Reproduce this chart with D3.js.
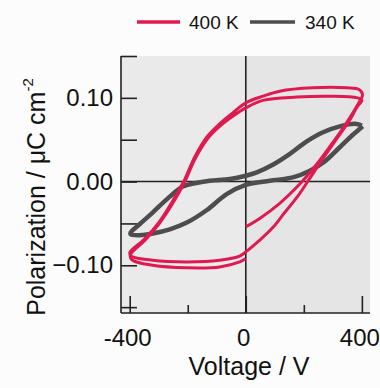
<!DOCTYPE html>
<html>
<head>
<meta charset="utf-8">
<script src="https://cdn.jsdelivr.net/npm/d3@7"></script>
<style>
  body { margin: 0; background: #fcfcfc; }
  text { font-family: "Liberation Sans", Arial, sans-serif; fill: #111; }
</style>
</head>
<body>
<div id="chart"></div>
<script>
// 400 K loop, two cycles, voltage in V and polarization in uC/cm2
var volt400 = [0, 48, 117, 186, 238, 290, 341, 386, 402,
    390, 348, 230, 117, 59, 0,
    -45, -90, -130, -175, -210, -250, -300, -350, -400,
    -395, -321, -203, -90, -21, 0,
    48, 93, 134, 176, 217, 255, 307, 359, 383, 400,
    385, 290, 176, 59, 0,
    -45, -90, -130, -175, -210, -250, -300, -350, -398,
    -390, -321, -203, -90, -21, 0];
var pol400 = [-0.054, -0.044, -0.026, -0.003, 0.018, 0.042, 0.067, 0.092, 0.104,
    0.110, 0.112, 0.112, 0.108, 0.102, 0.094,
    0.082, 0.069, 0.055, 0.030, 0.003, -0.022, -0.049, -0.069, -0.085,
    -0.089, -0.094, -0.096, -0.094, -0.089, -0.084,
    -0.070, -0.055, -0.037, -0.019, 0.002, 0.022, 0.048, 0.074, 0.089, 0.097,
    0.100, 0.102, 0.101, 0.097, 0.088,
    0.078, 0.066, 0.052, 0.027, 0.000, -0.025, -0.051, -0.071, -0.088,
    -0.094, -0.100, -0.103, -0.102, -0.096, -0.092];

// 340 K loop
var volt340 = [400, 376, 324, 266, 210, 152, 93, 38, 0, -55, -124, -176, -217, -262, -321, -366, -397,
    -397, -366, -321, -262, -203, -134, -66, 0, 83, 162, 221, 272, 324, 366, 393, 403];
var pol340 = [0.067, 0.069, 0.066, 0.059, 0.048, 0.033, 0.020, 0.011, 0.007, 0.003, 0.001, -0.002, -0.006, -0.018, -0.037, -0.051, -0.061,
    -0.063, -0.064, -0.062, -0.057, -0.049, -0.034, -0.015, -0.004, 0.001, 0.005, 0.013, 0.024, 0.041, 0.055, 0.063, 0.066];

var xTicksMajor = [-400, 0, 400];
var xTicksMinor = [-200, 200];
var yTicks = [-0.15, -0.10, -0.05, 0, 0.05, 0.10, 0.15];
var yTickLabels = [-0.10, 0, 0.10];
var seriesNames = ["400 K", "340 K"];
var seriesColors = ["#df1a50", "#4d4d4d"];

var width = 380, height = 388;
var plotLeft = 121, plotRight = 370, plotTop = 56, plotBottom = 313;

var svg = d3.select("#chart").append("svg")
    .attr("width", width)
    .attr("height", height);

var x = d3.scaleLinear().domain([-430, 428]).range([plotLeft, plotRight]);
var y = d3.scaleLinear().domain([-0.157, 0.15]).range([plotBottom, plotTop]);

// plot background
svg.append("rect")
    .attr("x", plotLeft).attr("y", plotTop)
    .attr("width", x(0) - plotLeft).attr("height", plotBottom - plotTop)
    .attr("fill", "#eaeaea");
svg.append("rect")
    .attr("x", x(0)).attr("y", plotTop)
    .attr("width", plotRight - x(0)).attr("height", plotBottom - plotTop)
    .attr("fill", "#e5e5e5");

// zero lines
svg.append("line")
    .attr("x1", x(0)).attr("x2", x(0))
    .attr("y1", plotTop).attr("y2", plotBottom)
    .attr("stroke", "#222").attr("stroke-width", 1.6);
svg.append("line")
    .attr("x1", plotLeft).attr("x2", plotRight)
    .attr("y1", y(0)).attr("y2", y(0))
    .attr("stroke", "#222").attr("stroke-width", 1.6);

// axes with inward ticks
var yAxis = d3.axisRight(y).tickValues(yTicks).tickSize(16).tickFormat("");
var gy = svg.append("g").attr("transform", `translate(${plotLeft},0)`).call(yAxis);
gy.select(".domain").attr("d", `M0,${plotTop}V${plotBottom}`);

var xAxisMajor = d3.axisTop(x).tickValues(xTicksMajor).tickSize(17).tickFormat("");
var xAxisMinor = d3.axisTop(x).tickValues(xTicksMinor).tickSize(8).tickFormat("");
var gx = svg.append("g").attr("transform", `translate(0,${plotBottom})`).call(xAxisMajor);
gx.select(".domain").attr("d", `M${plotLeft},0H${plotRight}`);
svg.append("g").attr("transform", `translate(0,${plotBottom})`).call(xAxisMinor)
    .select(".domain").remove();

svg.selectAll(".domain, .tick line")
    .attr("stroke", "#222")
    .attr("stroke-width", 1.6);

// tick labels
svg.selectAll(".ylab")
    .data(yTickLabels)
    .enter().append("text")
    .attr("class", "ylab")
    .attr("x", plotLeft - 8)
    .attr("y", d => y(d) + 8)
    .attr("text-anchor", "end")
    .attr("font-size", 24)
    .text(d => d3.format(".2f")(d));

svg.selectAll(".xlab")
    .data(xTicksMajor)
    .enter().append("text")
    .attr("class", "xlab")
    .attr("x", d => x(d) - 2)
    .attr("y", 346)
    .attr("text-anchor", "middle")
    .attr("font-size", 24)
    .text(d => d);

// axis titles
svg.append("text")
    .attr("x", 249).attr("y", 375)
    .attr("text-anchor", "middle")
    .attr("font-size", 25)
    .text("Voltage / V");

var yt = svg.append("text")
    .attr("transform", "translate(45,197) rotate(-90)")
    .attr("text-anchor", "middle")
    .attr("font-size", 25);
yt.append("tspan").text("Polarization / μC cm");
yt.append("tspan").attr("dy", -12).attr("font-size", 15).text("-2");

// loops
var line = d3.line()
    .x(d => x(d[0]))
    .y(d => y(d[1]))
    .curve(d3.curveCatmullRom.alpha(0.5));

svg.append("path")
    .datum(volt340.map((v, i) => [v, pol340[i]]))
    .attr("d", line)
    .attr("fill", "none")
    .attr("stroke", seriesColors[1])
    .attr("stroke-width", 4.5)
    .attr("stroke-linejoin", "round");

svg.append("path")
    .datum(volt400.map((v, i) => [v, pol400[i]]))
    .attr("d", line)
    .attr("fill", "none")
    .attr("stroke", seriesColors[0])
    .attr("stroke-width", 3)
    .attr("stroke-linejoin", "round");

// legend
var legendX = [137, 250];
var legend = svg.selectAll(".leg")
    .data(seriesNames)
    .enter().append("g")
    .attr("class", "leg")
    .attr("transform", (d, i) => `translate(${legendX[i]},22)`);
legend.append("line")
    .attr("x1", 0).attr("x2", (d, i) => i == 0 ? 43 : 45)
    .attr("stroke", (d, i) => seriesColors[i])
    .attr("stroke-width", 3.5);
legend.append("text")
    .attr("x", (d, i) => i == 0 ? 52 : 55)
    .attr("y", 7)
    .attr("font-size", 19)
    .text(d => d);
</script>
</body>
</html>
